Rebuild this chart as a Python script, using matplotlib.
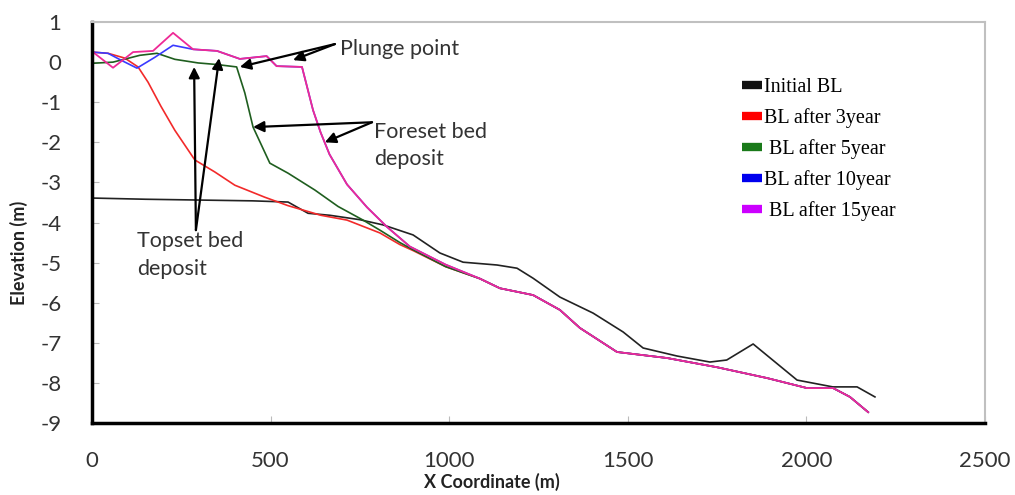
import matplotlib
matplotlib.use("Agg")
import matplotlib.pyplot as plt
from matplotlib.lines import Line2D

plt.rcParams['font.family'] = ['Lato', 'DejaVu Sans']
plt.rcParams['axes.unicode_minus'] = False

# bed levels (x in m, elevation in m)
x_init = [0, 150, 300, 450, 549, 605, 666, 750, 815, 899, 974, 1039, 1134, 1190, 1235,
          1310, 1403, 1487, 1543, 1638, 1730, 1777, 1851, 1974, 2074, 2142, 2192]
y_init = [-3.39, -3.42, -3.44, -3.46, -3.49, -3.77, -3.82, -3.93, -4.06, -4.31, -4.76, -4.99, -5.06, -5.14, -5.39,
          -5.86, -6.26, -6.73, -7.13, -7.33, -7.48, -7.43, -7.03, -7.93, -8.10, -8.10, -8.35]

x_3yr = [0, 45, 92, 129, 157, 193, 232, 288, 344, 400, 484, 549, 641, 714, 806, 862, 899, 990,
         1086, 1142, 1235, 1310, 1366, 1470, 1610, 1750, 1890, 2002, 2075, 2122, 2173]
y_3yr = [0.25, 0.22, 0.10, -0.12, -0.50, -1.10, -1.70, -2.44, -2.74, -3.07, -3.37, -3.58, -3.82, -3.94, -4.26, -4.55, -4.70, -5.10,
         -5.40, -5.64, -5.81, -6.18, -6.63, -7.23, -7.38, -7.61, -7.88, -8.13, -8.13, -8.35, -8.73]

x_5yr = [0, 59, 134, 182, 232, 297, 350, 405, 428, 451, 498, 549, 624, 689, 759, 806, 862, 899, 990,
         1086, 1142, 1235, 1310, 1366, 1470, 1610, 1750, 1890, 2002, 2075, 2122, 2173]
y_5yr = [-0.03, 0.0, 0.17, 0.22, 0.07, -0.02, -0.06, -0.12, -0.77, -1.62, -2.52, -2.77, -3.19, -3.60, -3.94, -4.19, -4.50, -4.68, -5.10,
         -5.40, -5.64, -5.81, -6.18, -6.63, -7.23, -7.38, -7.61, -7.88, -8.13, -8.13, -8.35, -8.73]

x_10yr = [0, 45, 81, 126, 176, 227, 283, 350, 414, 489, 517, 588, 619, 640, 665, 714, 770, 826, 890, 990,
          1086, 1142, 1235, 1310, 1366, 1470, 1610, 1750, 1890, 2002, 2075, 2122, 2173]
y_10yr = [0.25, 0.22, 0.05, -0.15, 0.12, 0.42, 0.32, 0.28, 0.08, 0.15, -0.10, -0.12, -1.20, -1.75, -2.30, -3.05, -3.62, -4.11, -4.60, -5.05,
          -5.40, -5.64, -5.81, -6.18, -6.63, -7.23, -7.38, -7.61, -7.88, -8.13, -8.13, -8.35, -8.73]

x_15yr = [0, 59, 115, 171, 227, 283, 350, 414, 489, 517, 588, 619, 640, 665, 714, 770, 826, 890, 990,
          1086, 1142, 1235, 1310, 1366, 1470, 1610, 1750, 1890, 2002, 2075, 2122, 2173]
y_15yr = [0.27, -0.14, 0.25, 0.28, 0.73, 0.32, 0.28, 0.08, 0.15, -0.10, -0.12, -1.20, -1.75, -2.30, -3.05, -3.62, -4.11, -4.60, -5.05,
          -5.40, -5.64, -5.81, -6.18, -6.63, -7.23, -7.38, -7.61, -7.88, -8.13, -8.13, -8.35, -8.73]

legend_labels = ['Initial BL', 'BL after 3year', ' BL after 5year', 'BL after 10year', ' BL after 15year']
legend_colors = ['#111111', '#ff0000', '#1a7a1a', '#0000ee', '#cc00ff']

fig = plt.figure(figsize=(10.15, 4.95), dpi=100)
ax = fig.add_axes([0.0906, 0.1455, 0.8798, 0.81])

ax.plot(x_init, y_init, color='#222222', lw=1.2)
ax.plot(x_3yr, y_3yr, color='#f22a2a', lw=1.2)
ax.plot(x_5yr, y_5yr, color='#1f5e1f', lw=1.2)
ax.plot(x_10yr, y_10yr, color='#3a3aff', lw=1.2)
ax.plot(x_15yr, y_15yr, color='#ee2a96', lw=1.3)

ax.set_xlim(0, 2500)
ax.set_ylim(-9, 1)
ax.set_xticks(range(0, 2501, 500))
ax.set_yticks(range(-9, 2))
ax.tick_params(direction='in', length=5, color='#bbbbbb', labelsize=16, labelcolor='#333333')
ax.tick_params(axis='x', pad=20)
ax.tick_params(axis='y', pad=22)
for s in ['left', 'bottom']:
    ax.spines[s].set_linewidth(2.5)
    ax.spines[s].set_color('black')
for s in ['top', 'right']:
    ax.spines[s].set_linewidth(1.5)
    ax.spines[s].set_color('#c0c0c0')

ax.set_xlabel('X Coordinate (m)', fontsize=13, fontweight='bold', color='#222222')
ax.xaxis.set_label_coords(0.448, -0.125)
ax.set_ylabel('Elevation (m)', fontsize=13, fontweight='bold', color='#222222')
ax.yaxis.set_label_coords(-0.072, 0.425)

arrow = dict(arrowstyle='-|>', color='black', lw=1.6, mutation_scale=16, shrinkA=0, shrinkB=0)
txt = dict(fontsize=15.5, color='#333333')

# plunge point
ax.text(694, 0.33, 'Plunge point', va='center', ha='left', **txt)
ax.annotate('', xy=(414, -0.12), xytext=(680, 0.45), arrowprops=arrow)
ax.annotate('', xy=(563, 0.05), xytext=(680, 0.45), arrowprops=arrow)

# foreset bed deposit
ax.text(789, -1.5, 'Foreset bed\ndeposit', va='top', ha='left', linespacing=1.45,
        bbox=dict(facecolor='white', edgecolor='none', pad=2), **txt)
ax.annotate('', xy=(451, -1.62), xytext=(784, -1.50), arrowprops=arrow)
ax.annotate('', xy=(652, -2.0), xytext=(784, -1.50), arrowprops=arrow)

# topset bed deposit
ax.text(126, -4.22, 'Topset bed\ndeposit', va='top', ha='left', linespacing=1.45, **txt)
ax.annotate('', xy=(286, -0.12), xytext=(291, -4.19), arrowprops=arrow)
ax.annotate('', xy=(356, 0.10), xytext=(291, -4.19), arrowprops=arrow)

handles = [Line2D([], [], color=c, lw=6, solid_capstyle='butt') for c in legend_colors]
ax.legend(handles, legend_labels, loc='upper left', bbox_to_anchor=(0.728, 0.86),
          frameon=False, handlelength=1.0, handletextpad=0.1, labelspacing=0.55,
          borderpad=0, borderaxespad=0,
          prop={'family': 'Liberation Serif', 'size': 14.5})

fig.savefig('out.png', dpi=100)
